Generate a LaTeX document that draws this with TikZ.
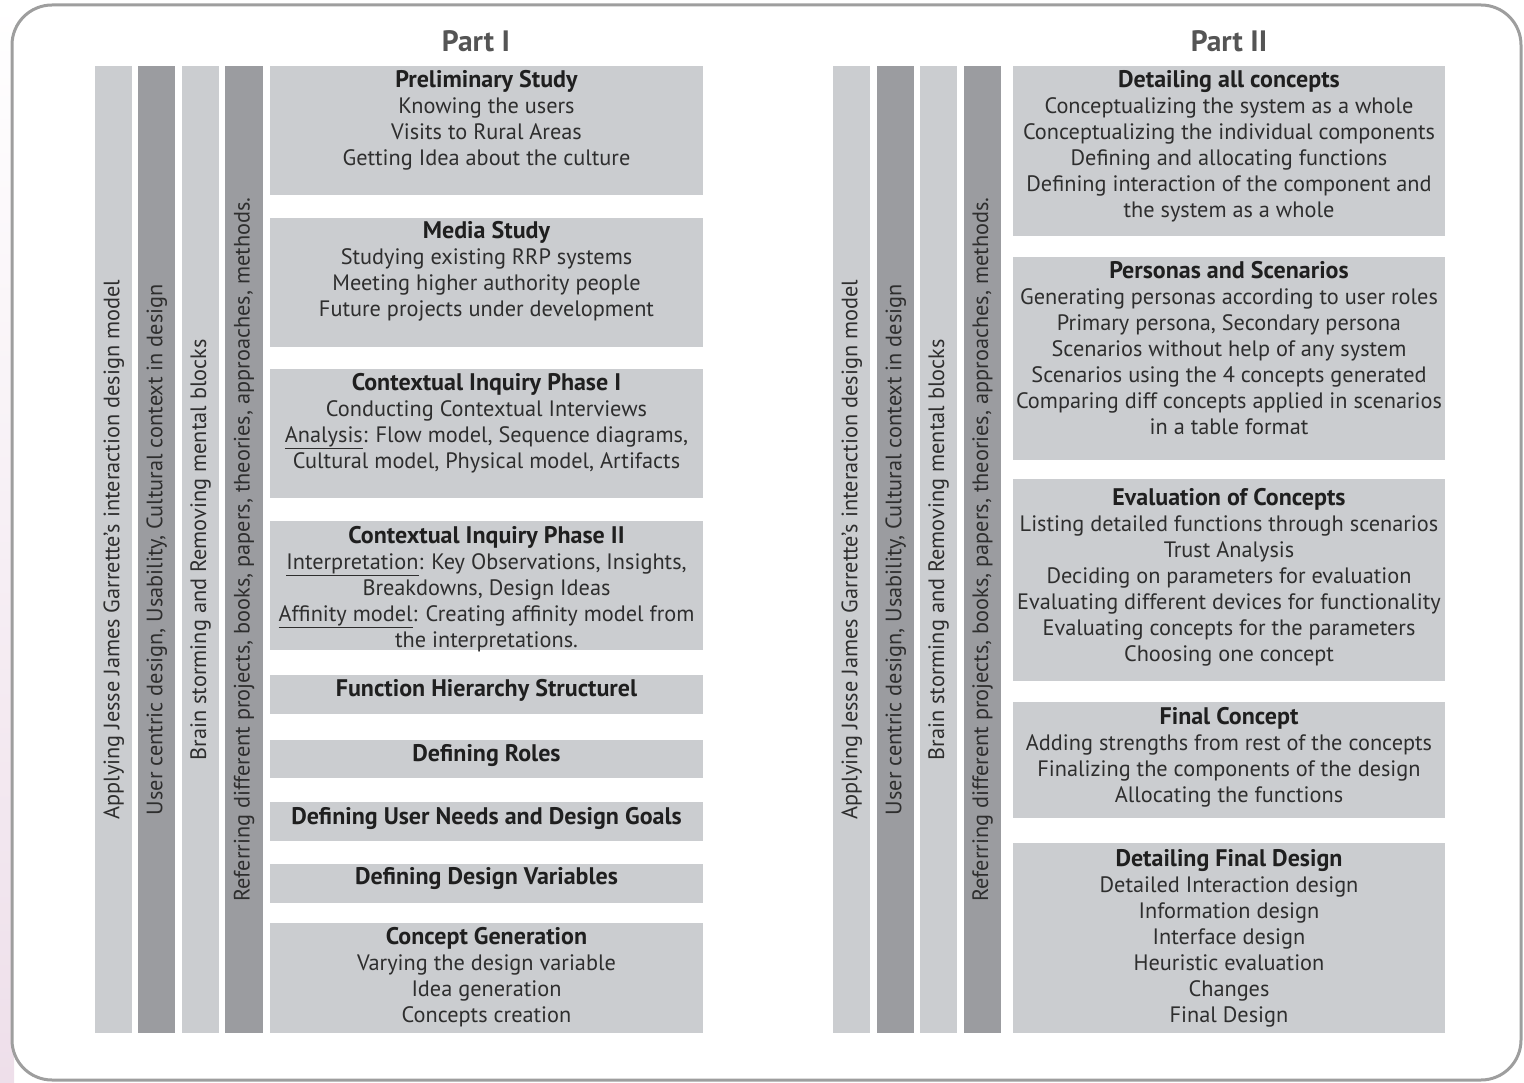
\documentclass[tikz,border=0pt]{standalone}
\usepackage{fontspec}
\setmainfont{PT Sans}
\definecolor{lightbar}{HTML}{CBCDD0}
\definecolor{darkbar}{HTML}{9B9CA0}
\definecolor{boxc}{HTML}{CBCDD0}
\definecolor{txtc}{HTML}{2E2E2E}
\definecolor{titc}{HTML}{555555}
\definecolor{framec}{HTML}{9E9E9E}
\definecolor{pinkbg}{HTML}{EEDFEA}
\newcommand\bodyfont{\fontsize{22.3}{26}\selectfont}
\newcommand\stagetitle[1]{\strut{\fontsize{24}{26}\selectfont\bfseries\color{black!88}#1}}
\begin{document}
\begin{tikzpicture}[x=1pt,y=-1pt,
  lbar/.style={fill=lightbar, draw=none, inner sep=0, minimum width=37pt, minimum height=967pt, anchor=north west},
  dbar/.style={fill=darkbar, draw=none, inner sep=0, minimum width=37pt, minimum height=967pt, anchor=north west},
  stagebox/.style={fill=boxc, draw=none, anchor=north west, inner sep=0, minimum height=#1},
  stagebox/.default=40pt,
  txt/.style={anchor=north, inner sep=0, align=center, font=\bodyfont, text=txtc},
  vtxt/.style={rotate=90, inner sep=0, font=\bodyfont, text=txtc},
  parttitle/.style={font=\fontsize{29.5}{32}\selectfont\bfseries, text=titc, inner sep=0}
]
\useasboundingbox (0,0) rectangle (1524,1083);
% background
\shade[top color=white, bottom color=pinkbg] (0,0) rectangle (14,1083);
\fill[white, rounded corners=40pt] (12,5) rectangle (1521,1080);
\draw[framec, line width=3pt, rounded corners=40pt] (12,5) rectangle (1521,1080);

% titles
\node[parttitle] (pt1) at (476,41) {Part I};
\node[parttitle] (pt2) at (1229,41) {Part II};

% ---------------- Part I bars
\node[lbar] (a1) at (95,66) {};
\node[dbar] (a2) at (138,66) {};
\node[lbar] (a3) at (182,66) {};
\node[dbar, minimum width=38pt] (a4) at (225,66) {};
\node[vtxt] (a1t) at (a1.center) {Applying Jesse James Garrette's interaction design model};
\node[vtxt] (a2t) at (a2.center) {User centric design, Usability, Cultural context in design};
\node[vtxt] (a3t) at (a3.center) {Brain storming and Removing mental blocks};
\node[vtxt] (a4t) at (a4.center) {Referring different projects, books, papers, theories, approaches, methods.};

% ---------------- Part I boxes
\node[stagebox=129pt, minimum width=433pt] (b1) at (270,66) {};
\node[txt] (b1t) at (486.5,79-9.8) {\stagetitle{Preliminary Study}\\Knowing the users\\Visits to Rural Areas\\Getting Idea about the culture};
\node[stagebox=129pt, minimum width=433pt] (b2) at (270,218) {};
\node[txt] (b2t) at (486.5,230-9.8) {\stagetitle{Media Study}\\Studying existing RRP systems\\Meeting higher authority people\\Future projects under development};
\node[stagebox=129pt, minimum width=433pt] (b3) at (270,369) {};
\node[txt] (b3t) at (486.5,382-9.8) {\stagetitle{Contextual Inquiry Phase I}\\Conducting Contextual Interviews\\\underline{Analysis}: Flow model, Sequence diagrams,\\Cultural model, Physical model, Artifacts};
\node[stagebox=129pt, minimum width=433pt] (b4) at (270,521) {};
\node[txt] (b4t) at (486.5,535-9.8) {\stagetitle{Contextual Inquiry Phase II}\\\underline{Interpretation}: Key Observations, Insights,\\Breakdowns, Design Ideas\\\underline{Affinity model}: Creating affinity model from\\the interpretations.};
\node[stagebox=39pt, minimum width=433pt] (b5) at (270,675) {};
\node[txt] (b5t) at (486.5,688-9.8) {\stagetitle{Function Hierarchy Structurel}};
\node[stagebox=38pt, minimum width=433pt] (b6) at (270,740) {};
\node[txt] (b6t) at (486.5,753-9.8) {\stagetitle{Defining Roles}};
\node[stagebox=39pt, minimum width=433pt] (b7) at (270,802) {};
\node[txt] (b7t) at (486.5,816-9.8) {\stagetitle{Defining User Needs and Design Goals}};
\node[stagebox=39pt, minimum width=433pt] (b8) at (270,864) {};
\node[txt] (b8t) at (486.5,876-9.8) {\stagetitle{Defining Design Variables}};
\node[stagebox=110pt, minimum width=433pt] (b9) at (270,923) {};
\node[txt] (b9t) at (486.5,936-9.8) {\stagetitle{Concept Generation}\\Varying the design variable\\Idea generation\\Concepts creation};

% ---------------- Part II bars
\node[lbar] (c1) at (833,66) {};
\node[dbar] (c2) at (877,66) {};
\node[lbar] (c3) at (920,66) {};
\node[dbar] (c4) at (964,66) {};
\node[vtxt] (c1t) at (c1.center) {Applying Jesse James Garrette's interaction design model};
\node[vtxt] (c2t) at (c2.center) {User centric design, Usability, Cultural context in design};
\node[vtxt] (c3t) at (c3.center) {Brain storming and Removing mental blocks};
\node[vtxt] (c4t) at (c4.center) {Referring different projects, books, papers, theories, approaches, methods.};

% ---------------- Part II boxes
\node[stagebox=170pt, minimum width=432pt] (d1) at (1013,66) {};
\node[txt] (d1t) at (1229,79-9.8) {\stagetitle{Detailing all concepts}\\Conceptualizing the system as a whole\\Conceptualizing the individual components\\Defining and allocating functions\\Defining interaction of the component and\\the system as a whole};
\node[stagebox=203pt, minimum width=432pt] (d2) at (1013,257) {};
\node[txt] (d2t) at (1229,270-9.8) {\stagetitle{Personas and Scenarios}\\Generating personas according to user roles\\Primary persona, Secondary persona\\Scenarios without help of any system\\Scenarios using the 4 concepts generated\\Comparing diff concepts applied in scenarios\\in a table format};
\node[stagebox=202pt, minimum width=432pt] (d3) at (1013,479) {};
\node[txt] (d3t) at (1229,497-9.8) {\stagetitle{Evaluation of Concepts}\\Listing detailed functions through scenarios\\Trust Analysis\\Deciding on parameters for evaluation\\Evaluating different devices for functionality\\Evaluating concepts for the parameters\\Choosing one concept};
\node[stagebox=116pt, minimum width=432pt] (d4) at (1013,702) {};
\node[txt] (d4t) at (1229,716-9.8) {\stagetitle{Final Concept}\\Adding strengths from rest of the concepts\\Finalizing the components of the design\\Allocating the functions};
\node[stagebox=190pt, minimum width=432pt] (d5) at (1013,843) {};
\node[txt] (d5t) at (1229,858-9.8) {\stagetitle{Detailing Final Design}\\Detailed Interaction design\\Information design\\Interface design\\Heuristic evaluation\\Changes\\Final Design};
\end{tikzpicture}
\end{document}
